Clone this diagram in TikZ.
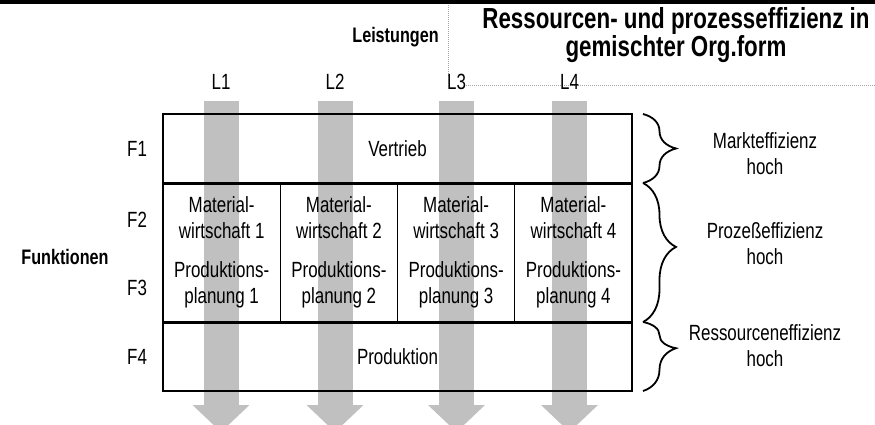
\documentclass[tikz,border=0pt]{standalone}
\usepackage{fontspec}
\setmainfont[FakeStretch=0.77]{Liberation Sans}
\usepackage{tikz}
\usetikzlibrary{arrows.meta, positioning, decorations.pathreplacing}
\definecolor{flowgray}{HTML}{C0C0C0}
\definecolor{guidegray}{HTML}{A6A6A6}

\begin{document}
\begin{tikzpicture}[
  x=1pt, y=-1pt,
  every node/.style={font=\fontsize{22}{26}\selectfont, inner sep=0pt, outer sep=0pt},
  rowbox/.style={draw, line width=1.4pt, minimum width=469pt, minimum height=69pt, align=center},
  cellbox/.style={draw, line width=1.4pt, minimum width=117.25pt, minimum height=139pt, align=center},
  flow/.style={-{Triangle[width=57pt, length=27pt, line width=0pt]}, line width=35pt, color=flowgray},
  divider/.style={line width=3pt},
  guide/.style={guidegray, line width=0.8pt, dash pattern=on 1pt off 1pt},
  effbrace/.style={decorate, decoration={brace, amplitude=33pt}, line width=1.8pt},
  heading/.style={font=\bfseries\fontsize{21}{24}\selectfont},
  headline/.style={font=\bfseries\fontsize{29}{26}\selectfont, align=center},
  side/.style={align=center}
]
\useasboundingbox (0,0) rectangle (875,424);
\clip (0,0) rectangle (875,424);

% Header rule and guide lines
\draw[line width=3.5pt] (0,1.75) -- (875,1.75);
\draw[guide] (448,5) -- (448,76);
\draw[guide] (466,85) -- (875,85);

\node[heading] (leist) at (395.5,37) {Leistungen};
\node[headline] (head) at (676,35) {Ressourcen- und prozesseffizienz in\\gemischter Org.form};

% Services L1..L4 as flows
\foreach \i/\x in {1/221,2/335,3/456.5,4/569.5} {
  \node (l\i) at (\x,82) {L\i};
  \coordinate (s\i) at (\x,101);
  \coordinate (e\i) at (\x,432);
  \draw[flow] (s\i) -- (e\i);
}

% Row F1 - Vertrieb
\node[rowbox] (vertrieb) at (397.5,148.5) {Vertrieb};

% Rows F2/F3 - one cell per service
\node[cellbox, below=0pt of vertrieb.south west, anchor=north west] (c1)
  {Material-\\wirtschaft 1\\[13pt]Produktions-\\planung 1};
\node[cellbox, right=0pt of c1] (c2)
  {Material-\\wirtschaft 2\\[13pt]Produktions-\\planung 2};
\node[cellbox, right=0pt of c2] (c3)
  {Material-\\wirtschaft 3\\[13pt]Produktions-\\planung 3};
\node[cellbox, right=0pt of c3] (c4)
  {Material-\\wirtschaft 4\\[13pt]Produktions-\\planung 4};

% Row F4 - Produktion
\node[rowbox, below=0pt of c1.south west, anchor=north west] (produktion) {Produktion};

% Thick row separators
\draw[divider] (vertrieb.south west) -- (vertrieb.south east);
\draw[divider] (produktion.north west) -- (produktion.north east);

% Function labels
\node[left=16pt of vertrieb] (f1) {F1};
\node[left=16pt of c1, yshift=32.5pt] (f2) {F2};
\node[left=16pt of c1, yshift=-35.5pt] (f3) {F3};
\node[left=16pt of produktion] (f4) {F4};
\node[heading] (funk) at (65,257) {Funktionen};

% Efficiency braces
\draw[effbrace] ([xshift=11pt]vertrieb.north east) -- ([xshift=11pt]vertrieb.south east);
\draw[effbrace, decoration={aspect=0.46}] ([xshift=11pt]c4.north east) -- ([xshift=11pt]c4.south east);
\draw[effbrace, decoration={aspect=0.38}] ([xshift=11pt]produktion.north east) -- ([xshift=11pt]produktion.south east);

\node[side] (markt) at (765,153.5) {Markteffizienz\\hoch};
\node[side] (prozess) at (765,243.5) {Prozeßeffizienz\\hoch};
\node[side] (ressource) at (765,345.5) {Ressourceneffizienz\\hoch};

\end{tikzpicture}
\end{document}
